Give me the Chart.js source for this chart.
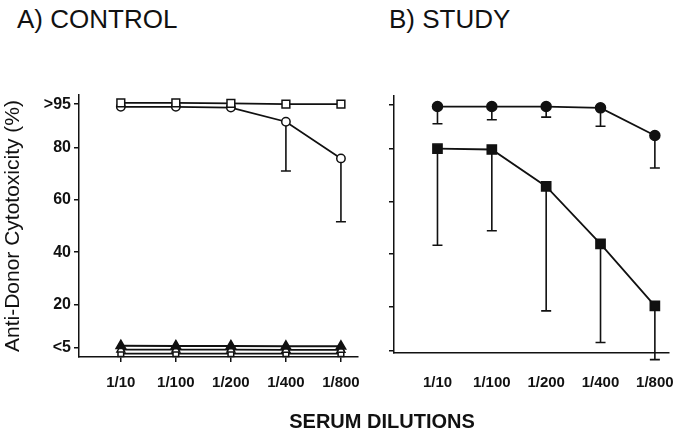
<!DOCTYPE html>
<html>
<head>
<meta charset="utf-8">
<script src="https://cdn.jsdelivr.net/npm/chart.js@4.4.1/dist/chart.umd.min.js"></script>
<style>
  body{ margin:0; background:#fff; width:677px; height:431px; position:relative; overflow:hidden;
        font-family:"Liberation Sans", Arial, sans-serif; color:#111; }
  #left{ position:absolute; left:0; top:0; }
  #right{ position:absolute; left:370px; top:0; }
  .ptitle{ position:absolute; font-size:26px; line-height:26px; white-space:nowrap; }
  #xtitle{ position:absolute; left:232px; width:300px; top:411px; text-align:center;
           font-size:20px; line-height:20px; font-weight:bold; }
</style>
</head>
<body>
<div class="ptitle" style="left:17px; top:6px;">A) CONTROL</div>
<div class="ptitle" style="left:389px; top:6px;">B) STUDY</div>
<canvas id="left" width="370" height="431"></canvas>
<canvas id="right" width="307" height="431"></canvas>
<div id="xtitle">SERUM DILUTIONS</div>
<script>
  const DILUTIONS = ["1/10","1/100","1/200","1/400","1/800"];
  const Y_TICKS = [3.5, 20, 40, 60, 80, 96.5];
  const Y_LABELS = ["<5","20","40","60","80",">95"];

  // A) control
  const CTRL_SQUARE = [97, 97, 96.8, 96.5, 96.5];
  const CTRL_CIRCLE = [95.5, 95.5, 95.2, 89.8, 75.8];
  const CTRL_CIRCLE_LOW = [null, null, null, 71, 51.6];
  const CTRL_TRI_FILLED = [4.3, 4.2, 4.2, 4.1, 4.1];
  const CTRL_TRI_OPEN = [2.8, 2.8, 2.8, 2.7, 2.7];
  const CTRL_LOW_OPEN = [1.3, 1.3, 1.3, 1.3, 1.3];

  // B) study
  const STUDY_CIRCLE = [96, 96, 96, 95.5, 85];
  const STUDY_CIRCLE_LOW = [89.5, 91, 92, 88.5, 72.7];
  const STUDY_SQUARE = [80, 79.7, 65.7, 43.9, 20.4];
  const STUDY_SQUARE_LOW = [43.4, 48.9, 18.5, 6.5, 0];

  const INK = "#111";
  const FONT = "'Liberation Sans', Arial, sans-serif";

  function pts(arr){ return arr.map((v, i) => ({x: i, y: v})); }

  function series(values, style, radius, fill, lower){
    return {
      data: pts(values),
      lower: lower || null,
      borderColor: INK,
      borderWidth: 1.8,
      tension: 0,
      pointStyle: style,
      pointRadius: radius,
      pointBackgroundColor: fill,
      pointBorderColor: INK,
      pointBorderWidth: 1.5,
      clip: false
    };
  }

  // lower error bars, drawn under the markers
  const errorBars = {
    id: "errorBars",
    beforeDatasetsDraw(chart){
      const ctx = chart.ctx;
      const ys = chart.scales.y;
      ctx.save();
      ctx.strokeStyle = INK;
      ctx.lineWidth = 1.6;
      chart.data.datasets.forEach((ds, i) => {
        if (!ds.lower) return;
        const meta = chart.getDatasetMeta(i);
        ds.lower.forEach((lo, j) => {
          if (lo === null) return;
          const p = meta.data[j];
          const y1 = ys.getPixelForValue(lo);
          ctx.beginPath();
          ctx.moveTo(p.x, p.y);
          ctx.lineTo(p.x, y1);
          ctx.moveTo(p.x - 5, y1);
          ctx.lineTo(p.x + 5, y1);
          ctx.stroke();
        });
      });
      ctx.restore();
    }
  };

  function axes(opt){
    return {
      x: {
        type: "linear", min: opt.xmin, max: opt.xmax,
        afterBuildTicks(s){ s.ticks = DILUTIONS.map((_, i) => ({value: i})); },
        afterFit(s){ s.height = opt.xh; s.paddingLeft = 0; s.paddingRight = 0; },
        ticks: { callback: v => DILUTIONS[v], font: {family: FONT, size: 15, weight: "bold"},
                 color: INK, padding: opt.xpad, maxRotation: 0, autoSkip: false },
        grid: { drawOnChartArea: false, drawTicks: opt.xticks, tickLength: 5, color: INK, lineWidth: 1.5 },
        border: { color: INK, width: 1.5 }
      },
      y: {
        type: "linear", min: opt.ymin, max: 100,
        afterBuildTicks(s){ s.ticks = Y_TICKS.map(v => ({value: v})); },
        afterFit(s){ s.width = opt.yw; s.paddingTop = 0; s.paddingBottom = 0; },
        ticks: { display: opt.ylabels, callback: (v, i) => Y_LABELS[i],
                 font: {family: FONT, size: 16, weight: "bold"}, color: INK, padding: 3 },
        grid: { drawOnChartArea: false, drawTicks: true, tickLength: 5, color: INK, lineWidth: 1.5 },
        border: { color: INK, width: 1.5 },
        title: { display: opt.ylabels, text: "Anti-Donor Cytotoxicity (%)",
                 font: {family: FONT, size: 21}, color: INK, padding: {top: 1, bottom: 0} }
      }
    };
  }

  const common = {
    responsive: false,
    animation: false,
    plugins: { legend: { display: false }, tooltip: { enabled: false } }
  };

  new Chart(document.getElementById("left"), {
    type: "line",
    data: {
      datasets: [
        series(CTRL_SQUARE, "rect", 5.5, "#fff"),
        series(CTRL_CIRCLE, "circle", 4.2, "#fff", CTRL_CIRCLE_LOW),
        series(CTRL_TRI_FILLED, "triangle", 5.5, INK),
        series(CTRL_TRI_OPEN, "triangle", 4.5, "#fff"),
        series(CTRL_LOW_OPEN, "rect", 4, "#fff")
      ]
    },
    options: Object.assign({}, common, {
      layout: { padding: { top: 95, right: 12, left: 0, bottom: 0 } },
      scales: axes({ xmin: -0.76, xmax: 4.31, xh: 74, xpad: 12, xticks: true,
                     ymin: 0, yw: 79, ylabels: true })
    }),
    plugins: [errorBars]
  });

  new Chart(document.getElementById("right"), {
    type: "line",
    data: {
      datasets: [
        series(STUDY_CIRCLE, "circle", 5, INK, STUDY_CIRCLE_LOW),
        series(STUDY_SQUARE, "rect", 6.5, INK, STUDY_SQUARE_LOW)
      ]
    },
    options: Object.assign({}, common, {
      layout: { padding: { top: 96, right: 2, left: 0, bottom: 0 } },
      scales: axes({ xmin: -0.8, xmax: 4.26, xh: 78, xpad: 21, xticks: false,
                     ymin: 2.5, yw: 24, ylabels: false })
    }),
    plugins: [errorBars]
  });
</script>
</body>
</html>
